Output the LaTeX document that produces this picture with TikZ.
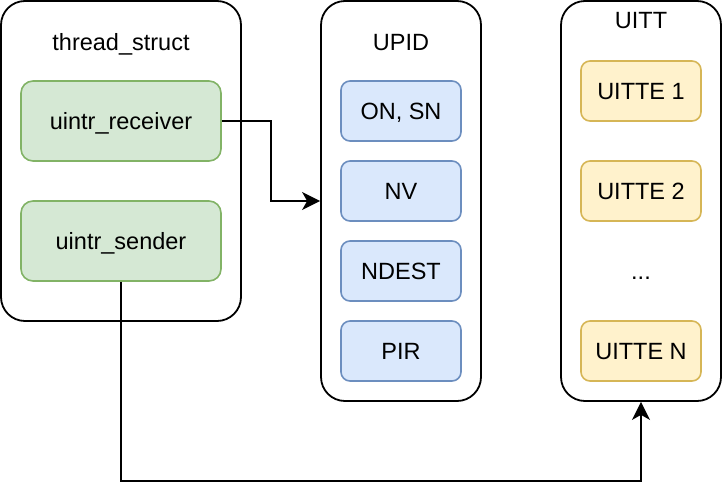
\documentclass[tikz,border=0pt]{standalone}
\usepackage{fontspec}
\setmainfont{Liberation Sans}
\usetikzlibrary{arrows.meta}
\definecolor{greenfill}{HTML}{D5E8D4}
\definecolor{greenline}{HTML}{82B366}
\definecolor{bluefill}{HTML}{DAE8FC}
\definecolor{blueline}{HTML}{6C8EBF}
\definecolor{yellowfill}{HTML}{FFF2CC}
\definecolor{yellowline}{HTML}{D6B656}
\tikzset{
    outerbox/.style={draw, line width=1.8pt, rounded corners=24pt, inner sep=0pt},
    field/.style={draw, line width=1.6pt, rounded corners=9pt, inner sep=0pt,
        minimum width=120pt, minimum height=60pt, text height=17pt, text depth=0pt},
    title/.style={inner sep=0pt, text height=17pt, text depth=0pt},
    link/.style={line width=1.8pt, -{Stealth[length=18pt, width=18pt, inset=5pt]}}
}
\begin{document}
\begin{tikzpicture}[x=1pt, y=-1pt, font=\fontsize{23.5}{28}\selectfont]
    \useasboundingbox (0, 0) rectangle (722, 498);
    % thread_struct
    \node[outerbox, minimum width=240pt, minimum height=320pt] (thread) at(121, 161) {};
    \node[title] (threadtitle) at(121, 42) {thread\_struct};
    \node[field, fill=greenfill, draw=greenline, minimum width=200pt, minimum height=80pt,
        rounded corners=12pt] (receiver) at(121, 121) {uintr\_receiver};
    \node[field, fill=greenfill, draw=greenline, minimum width=200pt, minimum height=80pt,
        rounded corners=12pt] (sender) at(121, 241) {uintr\_sender};
    % UPID
    \node[outerbox, minimum width=160pt, minimum height=400pt] (upid) at(401, 201) {};
    \node[title] (upidtitle) at(401, 42) {UPID};
    \node[field, fill=bluefill, draw=blueline] (onsn) at(401, 111) {ON, SN};
    \node[field, fill=bluefill, draw=blueline] (nv) at(401, 191) {NV};
    \node[field, fill=bluefill, draw=blueline] (ndest) at(401, 271) {NDEST};
    \node[field, fill=bluefill, draw=blueline] (pir) at(401, 351) {PIR};
    % UITT
    \node[outerbox, minimum width=160pt, minimum height=400pt] (uitt) at(641, 201) {};
    \node[title] (uitttitle) at(641, 20) {UITT};
    \node[field, fill=yellowfill, draw=yellowline] (uitte1) at(641, 91) {UITTE 1};
    \node[field, fill=yellowfill, draw=yellowline] (uitte2) at(641, 191) {UITTE 2};
    \node[title] (dots) at(641, 271) {...};
    \node[field, fill=yellowfill, draw=yellowline] (uitten) at(641, 351) {UITTE N};
    % links
    \coordinate (bendrecv) at(271, 121);
    \coordinate (bendsend) at(121, 481);
    \draw[link] (receiver.east) -- (bendrecv) |- (upid.west);
    \draw[link] (sender.south) -- (bendsend) -| (uitt.south);
\end{tikzpicture}
\end{document}
